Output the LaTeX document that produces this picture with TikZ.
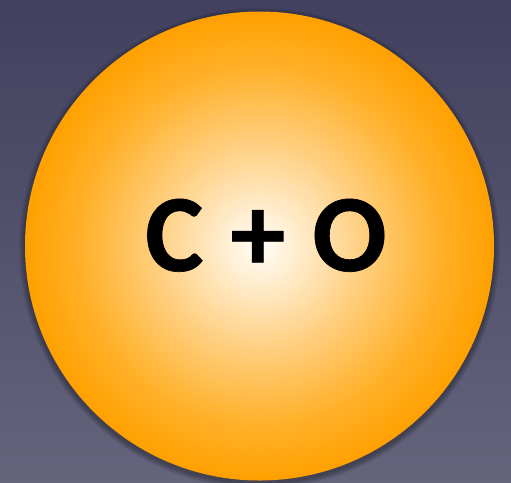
\documentclass[tikz,border=0pt]{standalone}
\usepackage{fontspec}
\setmainfont{Carlito}
\newfontface\heavyface{Carlito Bold}[FakeBold=0.6]
\definecolor{bgtop}{HTML}{41405E}
\definecolor{bgbot}{HTML}{64647D}
\definecolor{c0}{HTML}{FFFDF8}
\definecolor{c1}{HTML}{FFEFD4}
\definecolor{c2}{HTML}{FFCF80}
\definecolor{c3}{HTML}{FFB12A}
\definecolor{c4}{HTML}{FFA000}
\pgfdeclareradialshading{ballshade}{\pgfpoint{0bp}{0bp}}{%
  color(0bp)=(c0); color(3.5bp)=(c1); color(11bp)=(c2);
  color(19bp)=(c3); color(25bp)=(c4); color(50bp)=(c4)}
\tikzset{
  ball/.style={circle, minimum size=469pt, inner sep=0pt, shading=ballshade},
  label text/.style={font=\fontsize{110}{110}\heavyface, text=black}
}
\begin{document}
\begin{tikzpicture}[x=1pt,y=-1pt]
  \shade[top color=bgtop, bottom color=bgbot] (0,0) rectangle (511,482);
  \useasboundingbox (0,0) rectangle (511,482);
  \foreach \k in {1,...,6}{
    \fill[black, opacity=0.06] (259.5,248.5) circle ({234.5+\k});
  }
  \node[ball] (ball) at (259.5,246) {};
  \node[label text, anchor=base] (txt) at (266,271) {C\hspace{0.02em} + \hspace{0.02em}O};
\end{tikzpicture}
\end{document}
